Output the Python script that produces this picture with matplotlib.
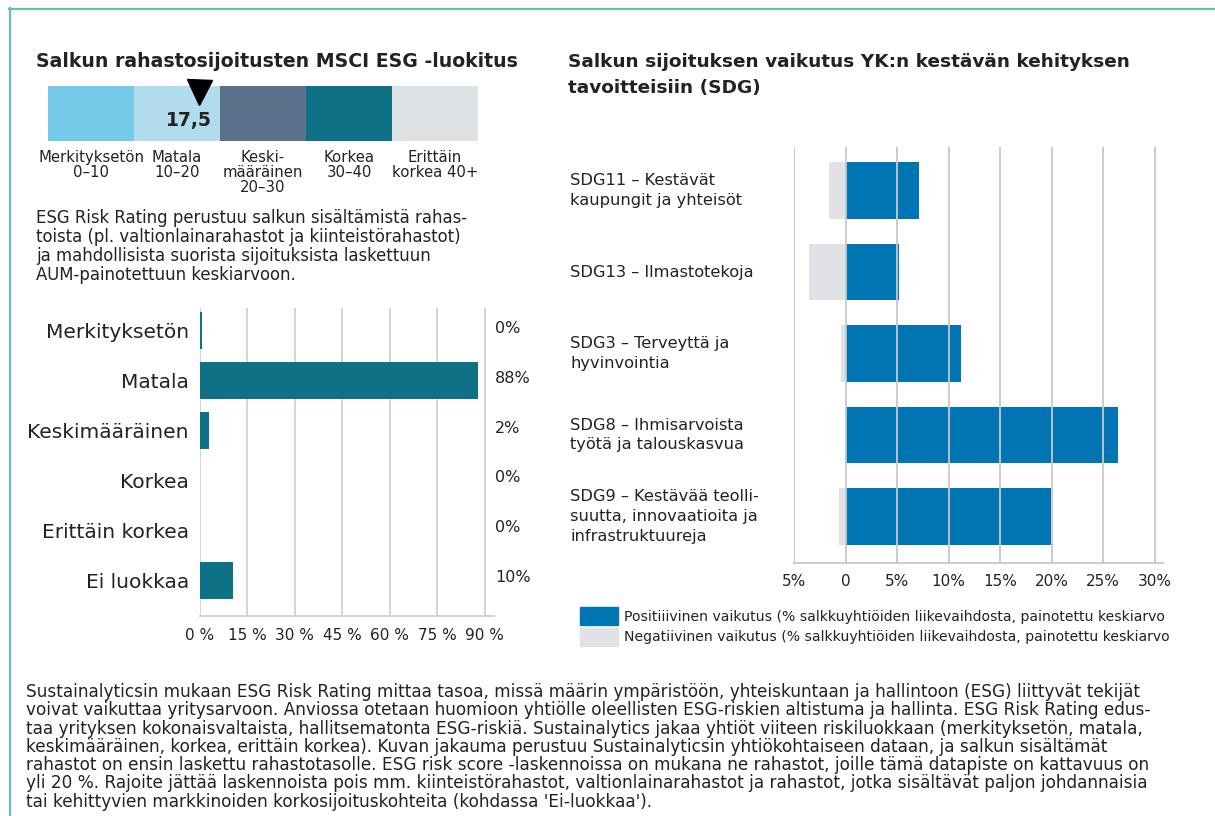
import numpy as np
import matplotlib
matplotlib.use('Agg')
import matplotlib.pyplot as plt
from matplotlib.lines import Line2D
from matplotlib.patches import Rectangle

W, H = 1215, 816

# MSCI ESG scale
scale_edges = [0, 10, 20, 30, 40, 50]
scale_colors = ['#73c9e7', '#b0dced', '#5a718c', '#0f7185', '#dfe2e5']
scale_labels = ['Merkityksetön\n0–10', 'Matala\n10–20', 'Keski-\nmääräinen\n20–30',
                'Korkea\n30–40', 'Erittäin\nkorkea 40+']
score = 17.5
score_text = '17,5'

# ESG risk rating distribution
risk_cats = ['Merkityksetön', 'Matala', 'Keskimääräinen', 'Korkea', 'Erittäin korkea', 'Ei luokkaa']
risk_vals = [0.5, 87.8, 2.7, 0, 0, 10.4]
risk_lbls = ['0%', '88%', '2%', '0%', '0%', '10%']
risk_ticks = [0, 15, 30, 45, 60, 75, 90]

# SDG impact
sdg_cats = ['SDG11 – Kestävät\nkaupungit ja yhteisöt', 'SDG13 – Ilmastotekoja',
            'SDG3 – Terveyttä ja\nhyvinvointia', 'SDG8 – Ihmisarvoista\ntyötä ja talouskasvua',
            'SDG9 – Kestävää teolli-\nsuutta, innovaatioita ja\ninfrastruktuureja']
sdg_pos = [7.15, 5.15, 11.2, 26.45, 19.9]
sdg_neg = [-1.6, -3.5, -0.4, -0.05, -0.65]
sdg_ticks = [-5, 0, 5, 10, 15, 20, 25, 30]
sdg_ticklbls = ['5%', '0', '5%', '10%', '15%', '20%', '25%', '30%']
legend_lbls = ['Positiiivinen vaikutus (% salkkuyhtiöiden liikevaihdosta, painotettu keskiarvo',
               'Negatiivinen vaikutus (% salkkuyhtiöiden liikevaihdosta, painotettu keskiarvo']

title1 = ['Salkun rahastosijoitusten MSCI ESG -luokitus']
title2 = ['Salkun sijoituksen vaikutus YK:n kestävän kehityksen', 'tavoitteisiin (SDG)']
para1 = ['ESG Risk Rating perustuu salkun sisältämistä rahas-',
         'toista (pl. valtionlainarahastot ja kiinteistörahastot)',
         'ja mahdollisista suorista sijoituksista laskettuun',
         'AUM-painotettuun keskiarvoon.']
para2 = ["Sustainalyticsin mukaan ESG Risk Rating mittaa tasoa, missä määrin ympäristöön, yhteiskuntaan ja hallintoon (ESG) liittyvät tekijät",
         "voivat vaikuttaa yritysarvoon. Anviossa otetaan huomioon yhtiölle oleellisten ESG-riskien altistuma ja hallinta. ESG Risk Rating edus-",
         "taa yrityksen kokonaisvaltaista, hallitsematonta ESG-riskiä. Sustainalytics jakaa yhtiöt viiteen riskiluokkaan (merkityksetön, matala,",
         "keskimääräinen, korkea, erittäin korkea). Kuvan jakauma perustuu Sustainalyticsin yhtiökohtaiseen dataan, ja salkun sisältämät",
         "rahastot on ensin laskettu rahastotasolle. ESG risk score -laskennoissa on mukana ne rahastot, joille tämä datapiste on kattavuus on",
         "yli 20 %. Rajoite jättää laskennoista pois mm. kiinteistörahastot, valtionlainarahastot ja rahastot, jotka sisältävät paljon johdannaisia",
         "tai kehittyvien markkinoiden korkosijoituskohteita (kohdassa 'Ei-luokkaa')."]

TXT = '#222222'
plt.rcParams['font.family'] = ['DejaVu Sans']


def fx(x):
    return x / W


def fy(y):
    return 1 - y / H


def ax_px(x0, y0, x1, y1):
    return fig.add_axes([x0 / W, 1 - y1 / H, (x1 - x0) / W, (y1 - y0) / H])


def lines_px(lines, x, y0, pitch, **kw):
    # one text per line, baselines pitch px apart
    for i, ln in enumerate(lines):
        fig.text(fx(x), fy(y0 + i * pitch), ln, va='baseline', color=TXT, **kw)


fig = plt.figure(figsize=(W / 100, H / 100), dpi=100)

# frame lines
fig.add_artist(Line2D([fx(9), 1], [fy(8.5), fy(8.5)], color='#5cc3b8', lw=1.6))
fig.add_artist(Line2D([fx(10), fx(10)], [fy(8), 0], color='#5cc3b8', lw=1.6))

# titles
lines_px(title1, 36, 67, 26, fontsize=13.6, fontweight='bold')
lines_px(title2, 568, 67, 26, fontsize=13.3, fontweight='bold')

# scale bar
axs = ax_px(48, 86, 478, 141)
for i in range(len(scale_colors)):
    axs.barh(0.5, scale_edges[i + 1] - scale_edges[i], left=scale_edges[i], height=1,
             color=scale_colors[i])
    axs.text((scale_edges[i] + scale_edges[i + 1]) / 2, -0.17, scale_labels[i], ha='center',
             va='top', fontsize=10.7, color=TXT, linespacing=0.98)
axs.plot([score], [0.9], marker='v', markersize=18, color='black', clip_on=False)
axs.text(score + 1.6, 0.38, score_text, ha='right', va='center', fontsize=13.5,
         fontweight='bold', color=TXT)
axs.set_xlim(0, 50)
axs.set_ylim(0, 1)
axs.axis('off')

lines_px(para1, 36, 223, 19, fontsize=11.9)

# risk distribution chart
ax1 = ax_px(200, 308, 494, 616)
y1 = np.arange(len(risk_cats))
ax1.barh(y1, risk_vals, height=0.74, color='#0f7185', zorder=2)
ax1.set_xlim(0, 93)
ax1.set_ylim(5.72, -0.46)
ax1.set_xticks(risk_ticks)
ax1.set_xticklabels([f'{t} %' for t in risk_ticks], fontsize=11, color=TXT)
ax1.set_yticks(y1)
ax1.set_yticklabels(risk_cats, fontsize=14.5, color=TXT)
ax1.tick_params(length=0, pad=8)
ax1.tick_params(axis='x', pad=9)
ax1.grid(axis='x', color='#d0d0d0', lw=1.3, zorder=0)
for s in ['top', 'right', 'left']:
    ax1.spines[s].set_visible(False)
ax1.spines['bottom'].set_color('#d0d0d0')
ax1.spines['bottom'].set_linewidth(1.3)
for yy, lb in zip(y1, risk_lbls):
    ax1.text(1.003, yy - 0.05, lb, transform=ax1.get_yaxis_transform(), ha='left',
             va='center', fontsize=11.5, color=TXT)

# SDG chart
ax2 = ax_px(794, 147, 1163, 563)
y2 = np.arange(len(sdg_cats))
ax2.barh(y2, sdg_neg, height=0.69, color='#e0e2e6', zorder=1)
ax2.barh(y2, sdg_pos, height=0.69, color='#0075b4', zorder=2)
ax2.set_xlim(-5, 30.8)
ax2.set_ylim(4.57, -0.534)
ax2.set_xticks(sdg_ticks)
ax2.set_xticklabels(sdg_ticklbls, fontsize=11, color=TXT)
ax2.set_yticks([])
ax2.tick_params(length=0, pad=8)
for t in sdg_ticks:
    ax2.axvline(t, color='#c8c8c8', lw=1.3, zorder=3)
for s in ['top', 'right', 'left']:
    ax2.spines[s].set_visible(False)
ax2.spines['bottom'].set_color('#c8c8c8')
ax2.spines['bottom'].set_linewidth(1.3)
for yy, lb in zip(y2, sdg_cats):
    ax2.text(-0.607, yy, lb, transform=ax2.get_yaxis_transform(), ha='left', va='center',
             fontsize=11.7, color=TXT, linespacing=1.38)

# legend swatches
for i, (c, lb) in enumerate(zip(['#0075b4', '#e0e2e6'], legend_lbls)):
    top = 607 + i * 21
    fig.add_artist(Rectangle((fx(580), fy(top + 18)), 38 / W, 18 / H, color=c,
                             transform=fig.transFigure))
    fig.text(fx(624), fy(top + 9.5), lb, va='center', fontsize=10.1, color=TXT)

lines_px(para2, 26, 697, 18.3, fontsize=12.15)

fig.savefig('out.png', dpi=100)
